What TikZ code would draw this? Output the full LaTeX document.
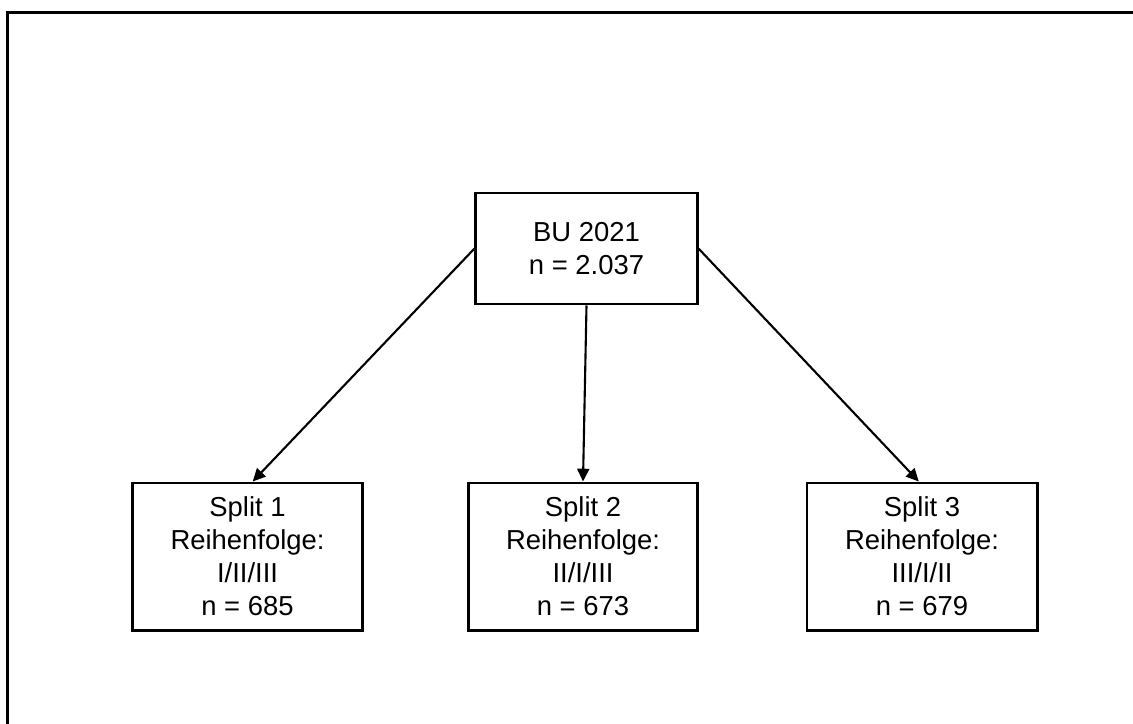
\documentclass[tikz,border=0pt]{standalone}
\usepackage{fontspec}
\setmainfont{Liberation Sans}
\usetikzlibrary{arrows.meta}

\tikzset{
  splitbox/.style={draw, line width=2.1pt, inner sep=0pt, align=center,
    minimum width=5.75cm, minimum height=3.675cm,
    font=\fontsize{19.5}{23.5}\selectfont},
  splitarrow/.style={line width=1.5pt, -{Triangle[length=0.32cm, width=0.3cm]}}
}

\begin{document}
\begin{tikzpicture}[x=0.025cm, y=-0.025cm]
                    \useasboundingbox (0,0) rectangle (1133,724);
                    \draw[line width=2.1pt] (7.5,724) -- (7.5,12.5) -- (1133,12.5);

                    \node[splitbox, minimum width=5.525cm, minimum height=2.775cm] (bu) at (586.5,248.5) {BU 2021\\n = 2.037};

                    \node[splitbox] (s1) at (247.5,556.5) {Split 1\\Reihenfolge:\\I/II/III\\n = 685};
                    \node[splitbox, minimum width=5.7cm] (s2) at (583,556.5) {Split 2\\Reihenfolge:\\II/I/III\\n = 673};
                    \node[splitbox] (s3) at (922,556.5) {Split 3\\Reihenfolge:\\III/I/II\\n = 679};

                    \draw[splitarrow] (bu.west) -- ([xshift=0.13cm]s1.north);
                    \draw[splitarrow] (bu.south) -- (s2.north);
                    \draw[splitarrow] (bu.east) -- ([xshift=-0.08cm]s3.north);
                \end{tikzpicture}
\end{document}
